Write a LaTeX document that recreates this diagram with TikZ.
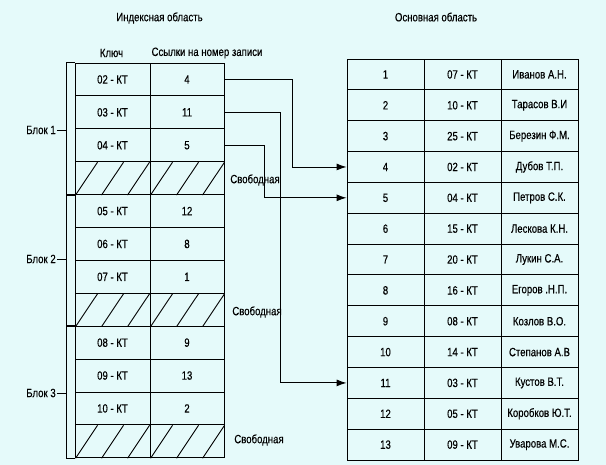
\documentclass[tikz,border=0pt]{standalone}
\usepackage{fontspec}
\setmainfont[FakeStretch=0.8,FakeBold=0.4]{Liberation Sans}
\usetikzlibrary{arrows.meta}
\definecolor{bg}{RGB}{229,250,250}
\begin{document}
\begin{tikzpicture}[x=1pt,y=-1pt,
  every node/.style={font=\fontsize{12}{14}\selectfont},
  icell/.style={draw, line width=0.9pt, inner sep=0pt, minimum height=32.9pt},
  mcell/.style={draw, line width=0.9pt, inner sep=0pt, minimum height=30.85pt, minimum width=77pt},
  lbl/.style={inner sep=1pt},
  ln/.style={line width=0.9pt},
  arr/.style={line width=0.9pt, -{Latex[length=10pt,width=7pt]}}]
\useasboundingbox (0,0) rectangle (606,465);
\fill[bg] (0,0) rectangle (606,465);
% headers
\node[lbl] (h1) at (159.5,18) {Индексная область};
\node[lbl] (h2) at (436,17) {Основная область};
\node[lbl] (h3) at (111.5,53) {Ключ};
\node[lbl] (h4) at (207,53) {Ссылки на номер записи};
% index table
\foreach \i/\k/\v in {0/02/4,1/03/11,2/04/5,4/05/12,5/06/8,6/07/1,8/08/9,9/09/13,10/10/2}{
  \node[icell, minimum width=75pt] (k\i) at (112.5,{63+32.9*(\i+0.5)}) {\k\ - КТ};
  \node[icell, minimum width=74pt] (v\i) at (187,{63+32.9*(\i+0.5)}) {\v};
}
\foreach \i in {3,7,11}{
  \node[icell, minimum width=75pt] (k\i) at (112.5,{63+32.9*(\i+0.5)}) {};
  \node[icell, minimum width=74pt] (v\i) at (187,{63+32.9*(\i+0.5)}) {};
  \foreach \d in {1,27,53}{
    \draw[ln] (k\i.south west) ++(\d,0) -- ++(22,-32.9);
    \draw[ln] (v\i.south west) ++(\d,0) -- ++(22,-32.9);
  }
}
% block brackets
\draw[ln] (k0.north west) -- ++(-8,0) coordinate (b1) |- (k3.south west);
\draw[ln] (k4.north west) -- ++(-8,0) coordinate (b2) |- (k7.south west);
\draw[ln] (k8.north west) -- ++(-8,0) coordinate (b3) |- (k11.south west);
\node[lbl] (bl1) at (41,130) {Блок 1};
\node[lbl] (bl2) at (41,259) {Блок 2};
\node[lbl] (bl3) at (41,393) {Блок 3};
\draw[ln] (bl1.east) -- (bl1.east -| b1);
\draw[ln] (bl2.east) -- (bl2.east -| b2);
\draw[ln] (bl3.east) -- (bl3.east -| b3);
\node[lbl] (s1) at (255,180) {Свободная};
\node[lbl] (s2) at (257,312) {Свободная};
\node[lbl] (s3) at (259,440) {Свободная};
% main table
\foreach \j/\k/\f [count=\n] in {0/07/{Иванов А.Н.},1/10/{Тарасов В.И},2/25/{Березин Ф.М.},3/02/{Дубов Т.П.},4/04/{Петров С.К.},5/15/{Лескова К.Н.},6/20/{Лукин С.А.},7/16/{Егоров .Н.П.},8/08/{Козлов В.О.},9/14/{Степанов А.В},10/03/{Кустов В.Т.},11/05/{Коробков Ю.Т.},12/09/{Уварова М.С.}}{
  \node[mcell] (n\j) at (385.5,{59+30.85*(\j+0.5)}) {\n};
  \node[mcell] (c\j) at (462.5,{59+30.85*(\j+0.5)}) {\k\ - КТ};
  \node[mcell] (f\j) at (539.5,{59+30.85*(\j+0.5)}) {\f};
}
% connectors
\draw[arr] (v0.east) -- ++(68,0) |- (n3.west);
\draw[arr] (v1.east) -- ++(56,0) |- (n10.west);
\draw[arr] (v2.east) -- ++(40,0) |- (n4.west);
\end{tikzpicture}
\end{document}
